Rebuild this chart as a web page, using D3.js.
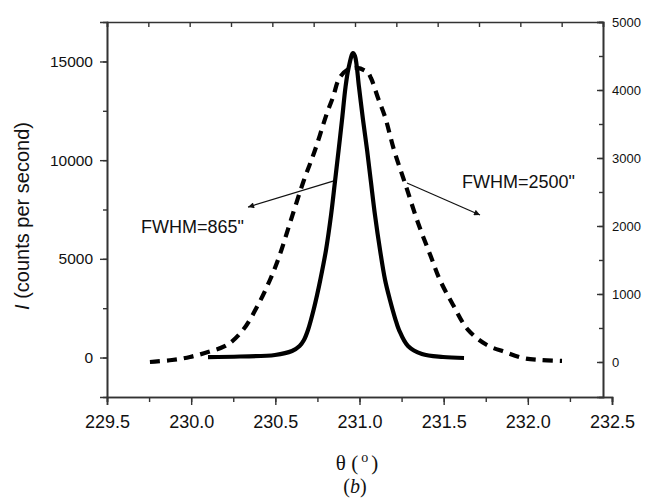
<!DOCTYPE html>
<html>
<head>
<meta charset="utf-8">
<script src="https://cdn.jsdelivr.net/npm/d3@7"></script>
<style>
  html, body { margin: 0; padding: 0; background: #fff; }
  svg { display: block; }
  text { font-family: "Liberation Sans", Arial, sans-serif; fill: #111; }
</style>
</head>
<body>
<svg id="chart" width="646" height="501"></svg>
<script>
// ---- data ----
// Narrow peak (solid, left axis): theta (deg), intensity (counts/s)
const narrowTheta = [230.100, 230.290, 230.498, 230.599, 230.644, 230.670, 230.694, 230.727, 230.748, 230.767,
  230.801, 230.831, 230.854, 230.876, 230.896, 230.917, 230.935, 230.961, 230.973, 230.997, 231.021, 231.045,
  231.068, 231.092, 231.122, 231.152, 231.181, 231.211, 231.235, 231.288, 231.371, 231.496, 231.621];
const narrowCounts = [25, 51, 127, 329, 583, 887, 1393, 2406, 3166, 3926,
  5446, 7219, 8891, 10512, 12031, 13703, 14666, 15426, 15274, 13703, 12031, 10512,
  8891, 7219, 5446, 3926, 2913, 2001, 1393, 583, 177, 25, -25];

// Broad peak (dashed, right axis)
const broadTheta = [229.755, 229.886, 229.993, 230.100, 230.213, 230.308, 230.397, 230.468, 230.522, 230.587,
  230.664, 230.736, 230.807, 230.843, 230.878, 230.926, 230.985, 231.045, 231.068, 231.110, 231.152, 231.205,
  231.270, 231.348, 231.425, 231.478, 231.556, 231.645, 231.757, 231.864, 231.971, 232.072, 232.203];
const broadCounts = [0, 29, 74, 147, 250, 471, 838, 1206, 1544, 2044,
  2632, 3118, 3662, 3897, 4162, 4294, 4324, 4265, 4176, 3882, 3603, 3118,
  2632, 2044, 1544, 1206, 838, 471, 250, 147, 59, 29, 15];

const xTicks = [229.5, 230.0, 230.5, 231.0, 231.5, 232.0, 232.5];
const leftTicks = [0, 5000, 10000, 15000];
const rightTicks = [0, 1000, 2000, 3000, 4000, 5000];

const labelNarrow = 'FWHM=865"';
const labelBroad = 'FWHM=2500"';

// ---- drawing ----
const svg = d3.select("#chart");
const X0 = 107, X1 = 612, XR = 603, YT = 22, YB = 397;

const x = d3.scaleLinear().domain([229.5, 232.5]).range([X0, X1]);
const xTop = d3.scaleLinear().domain([229.5, 232.5]).range([X0, XR]);
const yL = d3.scaleLinear().domain([-2000, 17000]).range([YB, YT]);
const yR = d3.scaleLinear().domain([-515, 5000]).range([YB, YT]);

const axisColor = "#333";
const sans = "Liberation Sans, Arial, sans-serif";

// bottom axis
const minorX = d3.range(229.5, 232.51, 0.25);
const gB = svg.append("g").attr("transform", `translate(0,${YB})`);
gB.call(d3.axisBottom(x).tickValues(minorX).tickSize(5).tickFormat(""));
gB.call(g => g.append("g").call(d3.axisBottom(x).tickValues(xTicks).tickSize(8).tickPadding(10).tickFormat(d3.format(".1f"))));
gB.selectAll("path.domain").attr("stroke", axisColor).attr("stroke-width", 1.6);
gB.selectAll("line").attr("stroke", axisColor).attr("stroke-width", 1.4);
gB.selectAll("text").attr("font-size", 18).attr("fill", "#111").style("font-family", sans);

// top axis (ticks inward)
const gT = svg.append("g").attr("transform", `translate(0,${YT})`);
gT.call(d3.axisTop(xTop).tickValues(minorX).tickSize(-5).tickFormat(""));
gT.selectAll("path.domain").attr("stroke", axisColor).attr("stroke-width", 1.6);
gT.selectAll("line").attr("stroke", axisColor).attr("stroke-width", 1.4);

// left axis
const minorL = d3.range(0, 17001, 2500);
const gL = svg.append("g").attr("transform", `translate(${X0},0)`);
gL.call(d3.axisLeft(yL).tickValues(minorL).tickSize(4).tickFormat(""));
gL.call(g => g.append("g").call(d3.axisLeft(yL).tickValues(leftTicks).tickSize(7).tickPadding(7).tickFormat(d3.format("d"))));
gL.selectAll("path.domain").attr("stroke", axisColor).attr("stroke-width", 1.6);
gL.selectAll("line").attr("stroke", axisColor).attr("stroke-width", 1.4);
gL.selectAll("text").attr("font-size", 15.5).attr("fill", "#111").style("font-family", sans);

// right axis (ticks inward, labels outside)
const minorR = d3.range(0, 5001, 500);
const gR = svg.append("g").attr("transform", `translate(${XR},0)`);
gR.call(d3.axisRight(yR).tickValues(minorR).tickSize(-4).tickFormat(""));
gR.call(g => g.append("g").call(d3.axisRight(yR).tickValues(rightTicks).tickSize(-6).tickPadding(9).tickFormat(d3.format("d"))));
gR.selectAll("path.domain").attr("stroke", axisColor).attr("stroke-width", 1.6);
gR.selectAll("line").attr("stroke", axisColor).attr("stroke-width", 1.4);
gR.selectAll("text").attr("font-size", 13).attr("fill", "#111").style("font-family", sans);

// curves
const narrow = narrowTheta.map((t, i) => [t, narrowCounts[i]]);
const broad = broadTheta.map((t, i) => [t, broadCounts[i]]);

const lineL = d3.line().x(d => x(d[0])).y(d => yL(d[1])).curve(d3.curveCatmullRom.alpha(0.5));
const lineR = d3.line().x(d => x(d[0])).y(d => yR(d[1])).curve(d3.curveCatmullRom.alpha(0.5));

svg.append("path").datum(broad).attr("d", lineR)
  .attr("fill", "none").attr("stroke", "#000").attr("stroke-width", 4.2)
  .attr("stroke-dasharray", "10,7");

svg.append("path").datum(narrow).attr("d", lineL)
  .attr("fill", "none").attr("stroke", "#000").attr("stroke-width", 4.2)
  .attr("stroke-linejoin", "round");

// annotations
const defs = svg.append("defs");
defs.append("marker").attr("id", "ah").attr("viewBox", "0 0 10 10")
  .attr("refX", 10).attr("refY", 5).attr("markerWidth", 9).attr("markerHeight", 6)
  .attr("markerUnits", "userSpaceOnUse").attr("orient", "auto")
  .append("path").attr("d", "M0,0L10,5L0,10Z").attr("fill", "#111");

svg.append("line")
  .attr("x1", x(230.843)).attr("y1", yL(8941)).attr("x2", x(230.338)).attr("y2", yL(7624))
  .attr("stroke", "#111").attr("stroke-width", 1.2).attr("marker-end", "url(#ah)");
svg.append("line")
  .attr("x1", x(231.282)).attr("y1", yR(2632)).attr("x2", x(231.716)).attr("y2", yR(2162))
  .attr("stroke", "#111").attr("stroke-width", 1.2).attr("marker-end", "url(#ah)");

svg.append("text").attr("x", x(229.702)).attr("y", yL(6307))
  .attr("font-size", 18).text(labelNarrow);
svg.append("text").attr("x", x(231.609)).attr("y", yR(2559))
  .attr("font-size", 18).text(labelBroad);

// y axis title
const yt = svg.append("text").attr("transform", "translate(29,216) rotate(-90)")
  .attr("text-anchor", "middle").attr("font-size", 20);
yt.append("tspan").attr("font-style", "italic").text("I");
yt.append("tspan").text(" (counts per second)");

// x axis title (serif)
const xt = svg.append("text").attr("x", 357).attr("y", 470).attr("text-anchor", "middle")
  .style("font-family", "Liberation Serif, Times New Roman, serif").attr("font-size", 21);
xt.append("tspan").text("θ (");
xt.append("tspan").attr("font-size", 14).attr("dx", 3).attr("dy", -8).text("o");
xt.append("tspan").attr("dx", 3).attr("dy", 8).text(")");

// panel label
const pl = svg.append("text").attr("x", 355).attr("y", 493).attr("text-anchor", "middle")
  .style("font-family", "Liberation Serif, Times New Roman, serif").attr("font-size", 20);
pl.append("tspan").text("(");
pl.append("tspan").attr("font-style", "italic").text("b");
pl.append("tspan").text(")");
</script>
</body>
</html>
